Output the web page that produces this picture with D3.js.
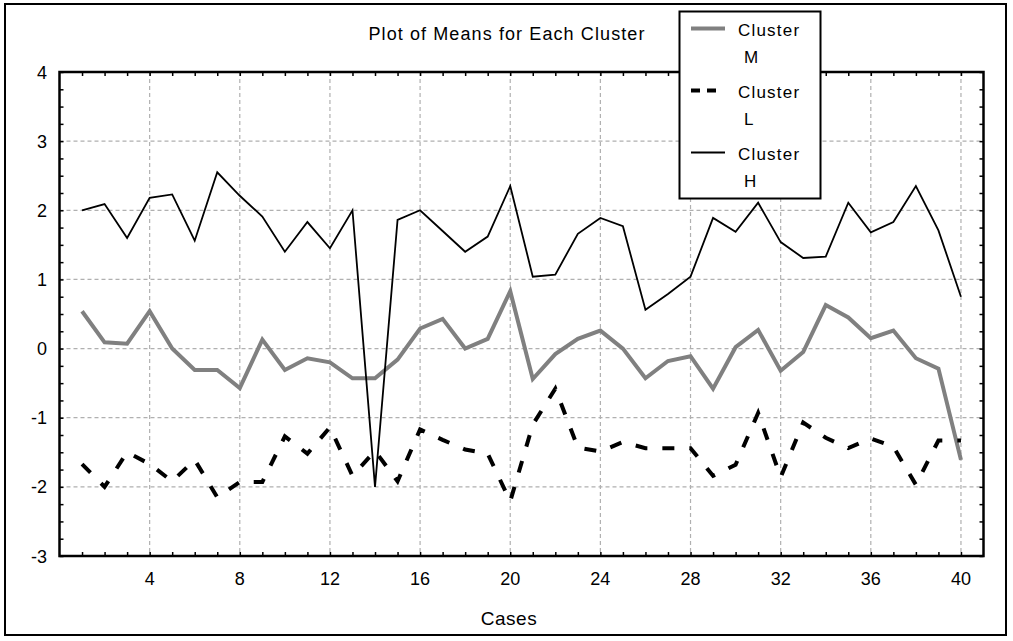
<!DOCTYPE html>
<html>
<head>
<meta charset="utf-8">
<script src="https://cdn.jsdelivr.net/npm/d3@7"></script>
<style>
    body { margin: 0; background: #fff; }
    text { font-family: "Liberation Sans", Arial, sans-serif; fill: #000; }
</style>
</head>
<body>
<svg id="chart" width="1013" height="641"></svg>
<script>
var cases = [1, 2, 3, 4, 5, 6, 7, 8, 9, 10, 11, 12, 13, 14, 15, 16, 17, 18, 19, 20,
    21, 22, 23, 24, 25, 26, 27, 28, 29, 30, 31, 32, 33, 34, 35, 36, 37, 38, 39, 40];

var clusterM = [0.54, 0.09, 0.07, 0.54, 0.00, -0.31, -0.31, -0.57, 0.13, -0.31,
    -0.14, -0.20, -0.43, -0.43, -0.16, 0.29, 0.43, 0.00, 0.14, 0.83,
    -0.44, -0.08, 0.14, 0.26, 0.00, -0.43, -0.18, -0.11, -0.58, 0.02,
    0.27, -0.32, -0.05, 0.63, 0.45, 0.15, 0.26, -0.14, -0.29, -1.61];

var clusterL = [-1.67, -2.00, -1.50, -1.67, -1.92, -1.61, -2.15, -1.93, -1.93, -1.27,
    -1.52, -1.14, -1.84, -1.48, -1.92, -1.17, -1.32, -1.46, -1.52, -2.21,
    -1.10, -0.58, -1.43, -1.49, -1.35, -1.44, -1.44, -1.44, -1.84, -1.68,
    -0.93, -1.86, -1.07, -1.29, -1.44, -1.30, -1.42, -1.97, -1.33, -1.33];

var clusterH = [2.00, 2.09, 1.60, 2.18, 2.23, 1.56, 2.55, 2.21, 1.91, 1.40,
    1.83, 1.45, 2.00, -2.00, 1.86, 2.00, 1.70, 1.40, 1.62, 2.35,
    1.04, 1.07, 1.66, 1.89, 1.77, 0.56, 0.79, 1.04, 1.89, 1.69,
    2.11, 1.54, 1.31, 1.33, 2.11, 1.68, 1.83, 2.35, 1.71, 0.75];

var xTicks = [4, 8, 12, 16, 20, 24, 28, 32, 36, 40];
var yTicks = [-3, -2, -1, 0, 1, 2, 3, 4];
var yMinor = [-3, -2.75, -2.5, -2.25, -2, -1.75, -1.5, -1.25, -1, -0.75, -0.5, -0.25, 0,
    0.25, 0.5, 0.75, 1, 1.25, 1.5, 1.75, 2, 2.25, 2.5, 2.75, 3, 3.25, 3.5, 3.75, 4];

var legendItems = [
    {name: "Cluster", sub: "M", data: clusterM},
    {name: "Cluster", sub: "L", data: clusterL},
    {name: "Cluster", sub: "H", data: clusterH}
];

var styles = {
    M: {stroke: "#808080", width: 4, dash: null},
    L: {stroke: "#000", width: 4, dash: "12,15"},
    H: {stroke: "#000", width: 1.8, dash: null}
};

var svg = d3.select("#chart");
// plot box (window.top is reserved, so keep these in an object)
var box = {left: 59.5, right: 983.5, top: 72, bottom: 556};

var x = d3.scaleLinear().domain([0, 41]).range([box.left, box.right]);
var y = d3.scaleLinear().domain([-3, 4]).range([box.bottom, box.top]);

// outer border
svg.append("rect")
    .attr("x", 5).attr("y", 4)
    .attr("width", 1001).attr("height", 631)
    .attr("fill", "#fff")
    .attr("stroke", "#000")
    .attr("stroke-width", 2);

// grid
var grid = svg.append("g").attr("stroke", "#b0b0b0").attr("stroke-width", 1.2).attr("stroke-dasharray", "4,3");
grid.selectAll("line.gx").data(xTicks).enter().append("line")
    .attr("x1", function(d){ return x(d); }).attr("x2", function(d){ return x(d); })
    .attr("y1", box.top).attr("y2", box.bottom);
grid.selectAll("line.gy").data(yTicks.filter(function(d){ return d > -3 && d < 4; })).enter().append("line")
    .attr("x1", box.left).attr("x2", box.right)
    .attr("y1", function(d){ return y(d); }).attr("y2", function(d){ return y(d); });

// axes, ticks pointing inward on all four sides
svg.append("g").attr("transform", "translate(0," + box.bottom + ")")
    .call(d3.axisBottom(x).tickValues(cases).tickSize(-4).tickFormat(""))
    .call(function(g){ g.select(".domain").remove(); });
svg.append("g").attr("transform", "translate(0," + box.top + ")")
    .call(d3.axisTop(x).tickValues(cases).tickSize(-4).tickFormat(""))
    .call(function(g){ g.select(".domain").remove(); });
svg.append("g").attr("transform", "translate(" + box.left + ",0)")
    .call(d3.axisLeft(y).tickValues(yMinor).tickSize(-4).tickFormat(""))
    .call(function(g){ g.select(".domain").remove(); });
svg.append("g").attr("transform", "translate(" + box.right + ",0)")
    .call(d3.axisRight(y).tickValues(yMinor).tickSize(-4).tickFormat(""))
    .call(function(g){ g.select(".domain").remove(); });
svg.selectAll(".tick line").attr("stroke", "#000").attr("stroke-width", 1.5);

// tick labels
svg.append("g").selectAll("text").data(xTicks).enter().append("text")
    .attr("x", function(d){ return x(d); })
    .attr("y", 585)
    .attr("text-anchor", "middle")
    .style("font-size", "18px")
    .text(function(d){ return d; });
svg.append("g").selectAll("text").data(yTicks).enter().append("text")
    .attr("x", 47)
    .attr("y", function(d){ return y(d) + 6.5; })
    .attr("text-anchor", "end")
    .style("font-size", "18px")
    .text(function(d){ return d; });

// series
var line = d3.line()
    .x(function(d, i){ return x(cases[i]); })
    .y(function(d){ return y(d); });
var plot = svg.append("g");
legendItems.forEach(function(item){
    var s = styles[item.sub];
    plot.append("path")
        .attr("d", line(item.data))
        .attr("fill", "none")
        .attr("stroke", s.stroke)
        .attr("stroke-width", s.width)
        .attr("stroke-dasharray", s.dash)
        .attr("stroke-linejoin", "miter");
});

// plot frame
svg.append("rect")
    .attr("x", box.left).attr("y", box.top)
    .attr("width", box.right - box.left).attr("height", box.bottom - box.top)
    .attr("fill", "none")
    .attr("stroke", "#000")
    .attr("stroke-width", 2.5);

// title and axis name
svg.append("text")
    .attr("x", 507).attr("y", 40)
    .attr("text-anchor", "middle")
    .style("font-size", "18px")
    .style("letter-spacing", "1.1px")
    .text("Plot of Means for Each Cluster");
svg.append("text")
    .attr("x", 509).attr("y", 625)
    .attr("text-anchor", "middle")
    .style("font-size", "19px")
    .style("letter-spacing", "0.5px")
    .text("Cases");

// legend
var legend = svg.append("g");
legend.append("rect")
    .attr("x", 679.5).attr("y", 11.5)
    .attr("width", 141).attr("height", 187)
    .attr("fill", "#fff")
    .attr("stroke", "#000")
    .attr("stroke-width", 2);
legendItems.forEach(function(item, i){
    var s = styles[item.sub];
    var base = 36 + i * 62;
    legend.append("line")
        .attr("x1", 691).attr("x2", s.dash ? 718 : 725)
        .attr("y1", base - 7.5).attr("y2", base - 7.5)
        .attr("stroke", s.stroke)
        .attr("stroke-width", s.width)
        .attr("stroke-dasharray", s.dash ? "9,7" : null);
    legend.append("text")
        .attr("x", 738).attr("y", base)
        .style("font-size", "17px")
        .style("letter-spacing", "1.2px")
        .text(item.name);
    legend.append("text")
        .attr("x", 744).attr("y", base + 27)
        .style("font-size", "17px")
        .text(item.sub);
});
</script>
</body>
</html>
